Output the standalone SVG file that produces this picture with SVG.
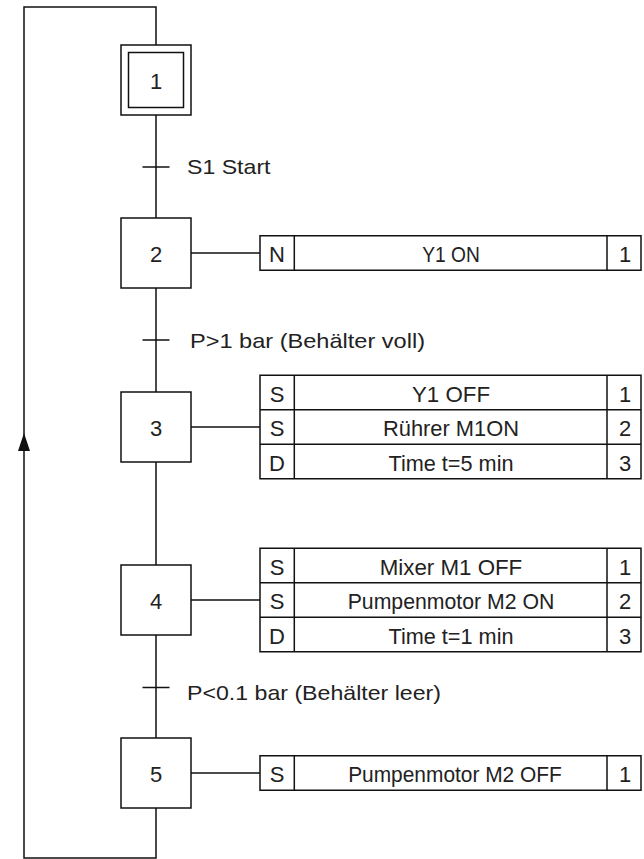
<svg xmlns="http://www.w3.org/2000/svg" width="644" height="859" viewBox="0 0 644 859">
<style>
.ln{fill:none;stroke:#111;stroke-width:1.5}
.bx{fill:#fff;stroke:#111;stroke-width:1.5}
text{font-family:"Liberation Sans",Arial,sans-serif;fill:#222}
.st{font-size:22px;text-anchor:middle}
.tr{font-size:21px}
.ac{font-size:22px;text-anchor:middle}
</style>
<rect width="644" height="859" fill="#fff"/>
<g id="connectors">
<path class="ln" d="M156,808 V858 H24 V7 H156 V45"/>
<path class="ln" d="M156,115 V218 M156,288 V392 M156,462 V565 M156,635 V738"/>
<path class="ln" d="M142.5,167 H169.5 M142.5,340 H169.5 M142.5,687.5 H169.5"/>
<path class="ln" d="M191,253 H260 M191,427 H260 M191,600 H260 M191,773 H260"/>
<polygon points="24,433 18,451 30,451" fill="#111"/>
</g>
<g id="step1">
<rect class="bx" x="121" y="45" width="70" height="70"/>
<rect class="bx" x="128.5" y="52.5" width="55" height="55"/>
<text class="st" x="156" y="89">1</text>
</g>
<g id="t1"><text class="tr" x="187" y="174" textLength="83.5" lengthAdjust="spacingAndGlyphs">S1 Start</text></g>
<g id="step2">
<rect class="bx" x="121" y="218" width="70" height="70"/>
<text class="st" x="156" y="262">2</text>
</g>
<g id="action2">
<rect class="bx" x="260" y="235.75" width="381" height="34.5"/>
<path class="ln" d="M294.3,235.75 V270.25 M607,235.75 V270.25"/>
<text class="ac" x="277" y="262">N</text>
<text class="ac" x="451" y="262" textLength="57.5" lengthAdjust="spacingAndGlyphs">Y1 ON</text>
<text class="ac" x="625" y="262">1</text>
</g>
<g id="t2"><text class="tr" x="190" y="348" textLength="235" lengthAdjust="spacingAndGlyphs">P&gt;1 bar (Behälter voll)</text></g>
<g id="step3">
<rect class="bx" x="121" y="392" width="70" height="70"/>
<text class="st" x="156" y="436">3</text>
</g>
<g id="action3">
<rect class="bx" x="260" y="375.25" width="381" height="103.5"/>
<path class="ln" d="M294.3,375.25 V478.75 M607,375.25 V478.75 M260,409.75 H641 M260,444.25 H641"/>
<text class="ac" x="277" y="401.5">S</text>
<text class="ac" x="451" y="401.5" textLength="78" lengthAdjust="spacingAndGlyphs">Y1 OFF</text>
<text class="ac" x="625" y="401.5">1</text>
<text class="ac" x="277" y="436">S</text>
<text class="ac" x="451" y="436" textLength="136" lengthAdjust="spacingAndGlyphs">Rührer M1ON</text>
<text class="ac" x="625" y="436">2</text>
<text class="ac" x="277" y="470.5">D</text>
<text class="ac" x="451" y="470.5" textLength="125" lengthAdjust="spacingAndGlyphs">Time t=5 min</text>
<text class="ac" x="625" y="470.5">3</text>
</g>
<g id="step4">
<rect class="bx" x="121" y="565" width="70" height="70"/>
<text class="st" x="156" y="609">4</text>
</g>
<g id="action4">
<rect class="bx" x="260" y="548.25" width="381" height="103.5"/>
<path class="ln" d="M294.3,548.25 V651.75 M607,548.25 V651.75 M260,582.75 H641 M260,617.25 H641"/>
<text class="ac" x="277" y="574.5">S</text>
<text class="ac" x="451" y="574.5" textLength="142.5" lengthAdjust="spacingAndGlyphs">Mixer M1 OFF</text>
<text class="ac" x="625" y="574.5">1</text>
<text class="ac" x="277" y="609">S</text>
<text class="ac" x="451" y="609" textLength="206.7" lengthAdjust="spacingAndGlyphs">Pumpenmotor M2 ON</text>
<text class="ac" x="625" y="609">2</text>
<text class="ac" x="277" y="643.5">D</text>
<text class="ac" x="451" y="643.5" textLength="125" lengthAdjust="spacingAndGlyphs">Time t=1 min</text>
<text class="ac" x="625" y="643.5">3</text>
</g>
<g id="t3"><text class="tr" x="187" y="700" textLength="254" lengthAdjust="spacingAndGlyphs">P&lt;0.1 bar (Behälter leer)</text></g>
<g id="step5">
<rect class="bx" x="121" y="738" width="70" height="70"/>
<text class="st" x="156" y="782">5</text>
</g>
<g id="action5">
<rect class="bx" x="260" y="755.75" width="381" height="34.5"/>
<path class="ln" d="M294.3,755.75 V790.25 M607,755.75 V790.25"/>
<text class="ac" x="277" y="782">S</text>
<text class="ac" x="455" y="782" textLength="213.7" lengthAdjust="spacingAndGlyphs">Pumpenmotor M2 OFF</text>
<text class="ac" x="625" y="782">1</text>
</g>
</svg>
